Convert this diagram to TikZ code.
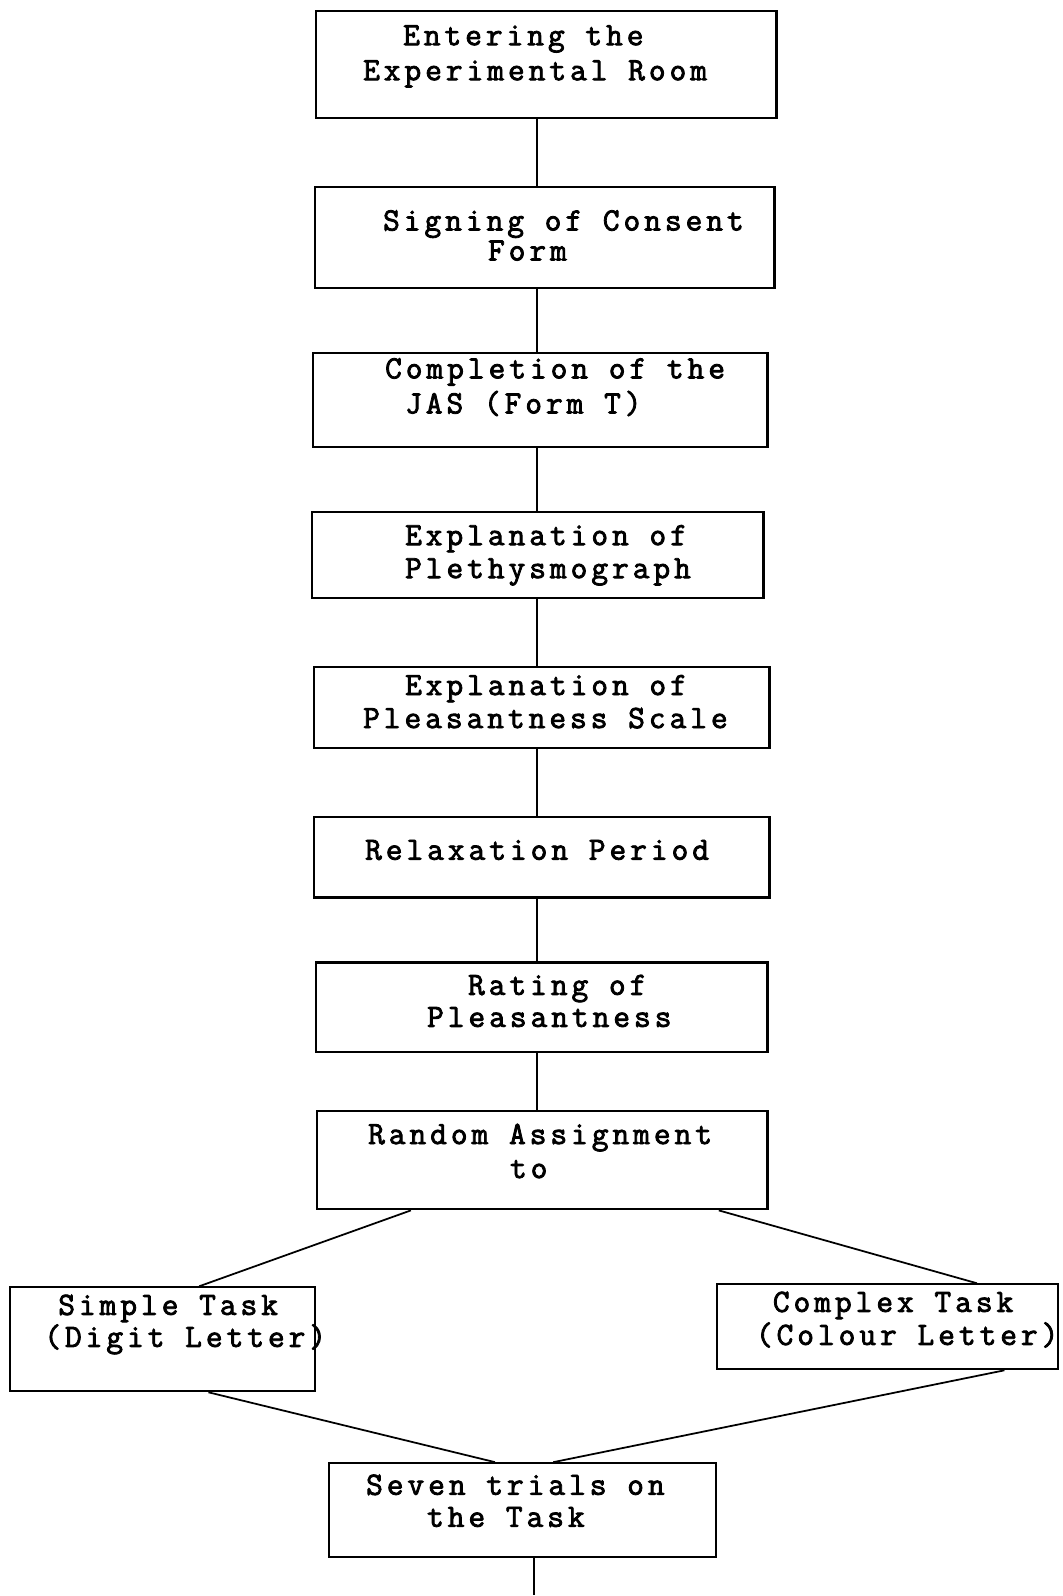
\documentclass[tikz,border=0pt]{standalone}
\usepackage{fontspec}
\usepackage{tikz}
\usetikzlibrary{calc}
\newfontfamily\typewr{Latin Modern Mono}[LetterSpace=12.2,FakeBold=2.5]
\tikzset{
  stage/.style={rectangle, draw=black, line width=1.2pt, inner sep=0pt},
  typed/.style={font=\typewr\fontsize{18.5}{18.8}\selectfont,
    align=left, anchor=north west, inner sep=0pt},
  link/.style={line width=1pt, color=black}
}

\begin{document}
\begin{tikzpicture}[x=0.02cm, y=-0.02cm]
\path[fill=white] (0,0) rectangle (1063,1596);
\coordinate (spine) at (537,0);
\coordinate (exit) at (534,1596);
% main column
\node[stage, minimum width=9.22cm, minimum height=2.14cm] (entry) at (546.5,64.5) {};
\node[stage, minimum width=9.20cm, minimum height=2.02cm] (consent) at (545,237.5) {};
\node[stage, minimum width=9.10cm, minimum height=1.88cm] (jas) at (540.5,400) {};
\node[stage, minimum width=9.04cm, minimum height=1.72cm] (pleth) at (538,555) {};
\node[stage, minimum width=9.12cm, minimum height=1.62cm] (scale) at (542,707.5) {};
\node[stage, minimum width=9.12cm, minimum height=1.62cm] (relax) at (542,857.5) {};
\node[stage, minimum width=9.04cm, minimum height=1.80cm] (rating) at (542,1008) {};
\node[stage, minimum width=9.02cm, minimum height=1.96cm] (assign) at (542.5,1161) {};
% the two tasks
\node[stage, minimum width=6.10cm, minimum height=2.08cm] (simple) at (162.5,1340) {};
\node[stage, minimum width=6.84cm, minimum height=1.70cm] (complex) at (888,1327.5) {};
\node[stage, minimum width=7.74cm, minimum height=1.88cm] (trials) at (522.5,1511) {};
% typed texts
\node[typed] (entry-t) at (363,25) {\hspace*{0.8cm}Entering the\\[0.04cm]Experimental Room};
\node[typed] (consent-t) at (383,210) {Signing of Consent\\[-0.06cm]\hspace*{2.1cm}Form};
\node[typed] (jas-t) at (385,358) {Completion of the\\[0.04cm]\hspace*{0.4cm}JAS (Form T)};
\node[typed] (pleth-t) at (405,525) {Explanation of\\Plethysmograph};
\node[typed] (scale-t) at (363,675) {\hspace*{0.84cm}Explanation of\\Pleasantness Scale};
\node[typed] (relax-t) at (365,840) {Relaxation Period};
\node[typed] (rating-t) at (427,975) {\hspace*{0.82cm}Rating of\\[-0.02cm]Pleasantness};
\node[typed] (assign-t) at (368,1124) {Random Assignment\\[0.02cm]\hspace*{2.84cm}to};
\node[typed] (simple-t) at (44,1295) {\hspace*{0.28cm}Simple Task\\[-0.02cm](Digit Letter)};
\node[typed] (complex-t) at (756,1292) {\hspace*{0.34cm}Complex Task\\(Colour Letter)};
\node[typed] (trials-t) at (366,1475) {Seven trials on\\[-0.02cm]\hspace*{1.22cm}the Task};
% connectors
\foreach \a/\b in {entry/consent, consent/jas, jas/pleth, pleth/scale,
                   scale/relax, relax/rating, rating/assign}
  \draw[link] (\a.south -| spine) -- (\b.north -| spine);
\draw[link] ($(assign.south west)!0.21!(assign.south east)$) -- ($(simple.north west)!0.62!(simple.north east)$);
\draw[link] ($(assign.south west)!0.89!(assign.south east)$) -- ($(complex.north west)!0.76!(complex.north east)$);
\draw[link] ($(simple.south west)!0.65!(simple.south east)$) -- ($(trials.north west)!0.43!(trials.north east)$);
\draw[link] ($(complex.south west)!0.84!(complex.south east)$) -- ($(trials.north west)!0.58!(trials.north east)$);
\draw[link] (trials.south -| exit) -- (exit);
\end{tikzpicture}
\end{document}
